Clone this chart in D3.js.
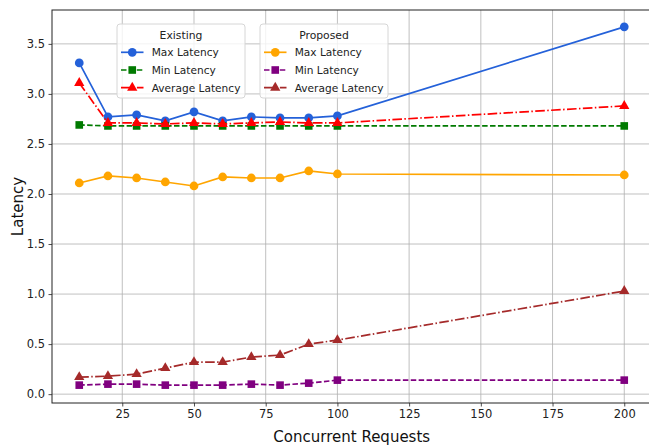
<!DOCTYPE html>
<html>
<head>
<meta charset="utf-8">
<script src="https://cdn.jsdelivr.net/npm/d3@7"></script>
<style>
  html, body { margin: 0; padding: 0; background: #fff; }
  svg { display: block; font-family: "DejaVu Sans", sans-serif; }
</style>
</head>
<body>
<svg id="chart" width="649" height="447"></svg>
<script>
// Concurrent request counts on the x axis
const requests = [10, 20, 30, 40, 50, 60, 70, 80, 90, 100, 200];

// Existing system latencies
const existingMax = [3.31, 2.77, 2.79, 2.73, 2.82, 2.73, 2.77, 2.76, 2.76, 2.78, 3.67];
const existingMin = [2.69, 2.68, 2.68, 2.68, 2.68, 2.68, 2.68, 2.68, 2.68, 2.68, 2.68];
const existingAvg = [3.11, 2.71, 2.71, 2.70, 2.71, 2.70, 2.71, 2.72, 2.71, 2.71, 2.88];

// Proposed system latencies
const proposedMax = [2.11, 2.18, 2.16, 2.12, 2.08, 2.17, 2.16, 2.16, 2.23, 2.20, 2.19];
const proposedMin = [0.09, 0.10, 0.10, 0.09, 0.09, 0.09, 0.10, 0.09, 0.11, 0.14, 0.14];
const proposedAvg = [0.17, 0.18, 0.20, 0.26, 0.32, 0.32, 0.37, 0.39, 0.50, 0.54, 1.03];

const xTicks = [25, 50, 75, 100, 125, 150, 175, 200];
const yTicks = [0.0, 0.5, 1.0, 1.5, 2.0, 2.5, 3.0, 3.5];

const svg = d3.select("#chart");
const plotLeft = 52, plotTop = 10, plotBottom = 403, plotRight = 651.5;

const x = d3.scaleLinear().domain([0.5, 209.5]).range([plotLeft, plotRight]);
const y = d3.scaleLinear().domain([-0.0885, 3.8385]).range([plotBottom, plotTop]);

// grid
const grid = svg.append("g").attr("stroke", "#b0b0b0").attr("stroke-width", 0.8);
grid.selectAll(".gx").data(xTicks).join("line")
  .attr("x1", d => x(d)).attr("x2", d => x(d)).attr("y1", plotTop).attr("y2", plotBottom);
grid.selectAll(".gy").data(yTicks).join("line")
  .attr("x1", plotLeft).attr("x2", plotRight).attr("y1", d => y(d)).attr("y2", d => y(d));

// axes
const xAxis = d3.axisBottom(x).tickValues(xTicks).tickFormat(d3.format("d")).tickSizeOuter(0).tickSize(3.5).tickPadding(3.5);
const yAxis = d3.axisLeft(y).tickValues(yTicks).tickFormat(d3.format(".1f")).tickSizeOuter(0).tickSize(3.5).tickPadding(3.5);

const gx = svg.append("g").attr("transform", `translate(0,${plotBottom})`).call(xAxis);
const gy = svg.append("g").attr("transform", `translate(${plotLeft},0)`).call(yAxis);
[gx, gy].forEach(g => {
  g.select(".domain").remove();
  g.selectAll(".tick line").attr("stroke", "#222").attr("stroke-width", 0.8);
  g.selectAll(".tick text").attr("fill", "#222").style("font-size", "11.5px").style("font-family", "DejaVu Sans, sans-serif");
});

// spines
svg.append("rect").attr("x", plotLeft).attr("y", plotTop).attr("width", plotRight - plotLeft).attr("height", plotBottom - plotTop)
  .attr("fill", "none").attr("stroke", "#222").attr("stroke-width", 1);

// axis labels, centred on the axes box
svg.append("text").attr("x", (plotLeft + plotRight) / 2).attr("y", 442).attr("text-anchor", "middle")
  .style("font-size", "15px").attr("fill", "#111").text("Concurrent Requests");
svg.append("text").attr("transform", `translate(23,${(plotTop + plotBottom) / 2}) rotate(-90)`).attr("text-anchor", "middle")
  .style("font-size", "15px").attr("fill", "#111").text("Latency");

const series = [
  { name: "Max Latency", values: existingMax, color: "#2461d9", dash: null, marker: "circle" },
  { name: "Min Latency", values: existingMin, color: "#007a00", dash: "5.5,2.4", marker: "square" },
  { name: "Average Latency", values: existingAvg, color: "#ff0000", dash: "9.6,2.4,1.5,2.4", marker: "triangle" },
  { name: "Max Latency", values: proposedMax, color: "#ffa500", dash: null, marker: "circle" },
  { name: "Min Latency", values: proposedMin, color: "#800080", dash: "5.5,2.4", marker: "square" },
  { name: "Average Latency", values: proposedAvg, color: "#a52a2a", dash: "9.6,2.4,1.5,2.4", marker: "triangle" }
];

const symbols = { circle: d3.symbolCircle, square: d3.symbolSquare, triangle: d3.symbolTriangle };
const symbolSize = { circle: 60, square: 58, triangle: 46 };

const line = d3.line().x(d => x(d[0])).y(d => y(d[1]));
const plot = svg.append("g");

series.forEach(s => {
  const pts = requests.map((r, i) => [r, s.values[i]]);
  plot.append("path").datum(pts).attr("d", line)
    .attr("fill", "none").attr("stroke", s.color).attr("stroke-width", 1.7)
    .attr("stroke-dasharray", s.dash);
  plot.selectAll(null).data(pts).join("path")
    .attr("transform", d => `translate(${x(d[0])},${y(d[1])})`)
    .attr("d", d3.symbol(symbols[s.marker], symbolSize[s.marker]))
    .attr("fill", s.color);
});

// legends
function legend(x0, w, title, items) {
  const g = svg.append("g");
  g.append("rect").attr("x", x0).attr("y", 24).attr("width", w).attr("height", 74).attr("rx", 3)
    .attr("fill", "rgba(255,255,255,0.8)").attr("stroke", "#d6d6d6").attr("stroke-width", 1);
  g.append("text").attr("x", x0 + w / 2).attr("y", 38.5).attr("text-anchor", "middle")
    .style("font-size", "10.8px").attr("fill", "#222").text(title);
  items.forEach((s, i) => {
    const yy = 52.3 + i * 17.7;
    g.append("line").attr("x1", x0 + 4).attr("x2", x0 + 26.5).attr("y1", yy).attr("y2", yy)
      .attr("stroke", s.color).attr("stroke-width", 1.7).attr("stroke-dasharray", s.dash);
    g.append("path").attr("transform", `translate(${x0 + 15.25},${yy})`)
      .attr("d", d3.symbol(symbols[s.marker], symbolSize[s.marker])).attr("fill", s.color);
    g.append("text").attr("x", x0 + 34.7).attr("y", yy + 3.9).style("font-size", "10.6px")
      .attr("fill", "#222").text(s.name);
  });
}
legend(117, 128, "Existing", series.slice(0, 3));
legend(260, 128, "Proposed", series.slice(3));
</script>
</body>
</html>
